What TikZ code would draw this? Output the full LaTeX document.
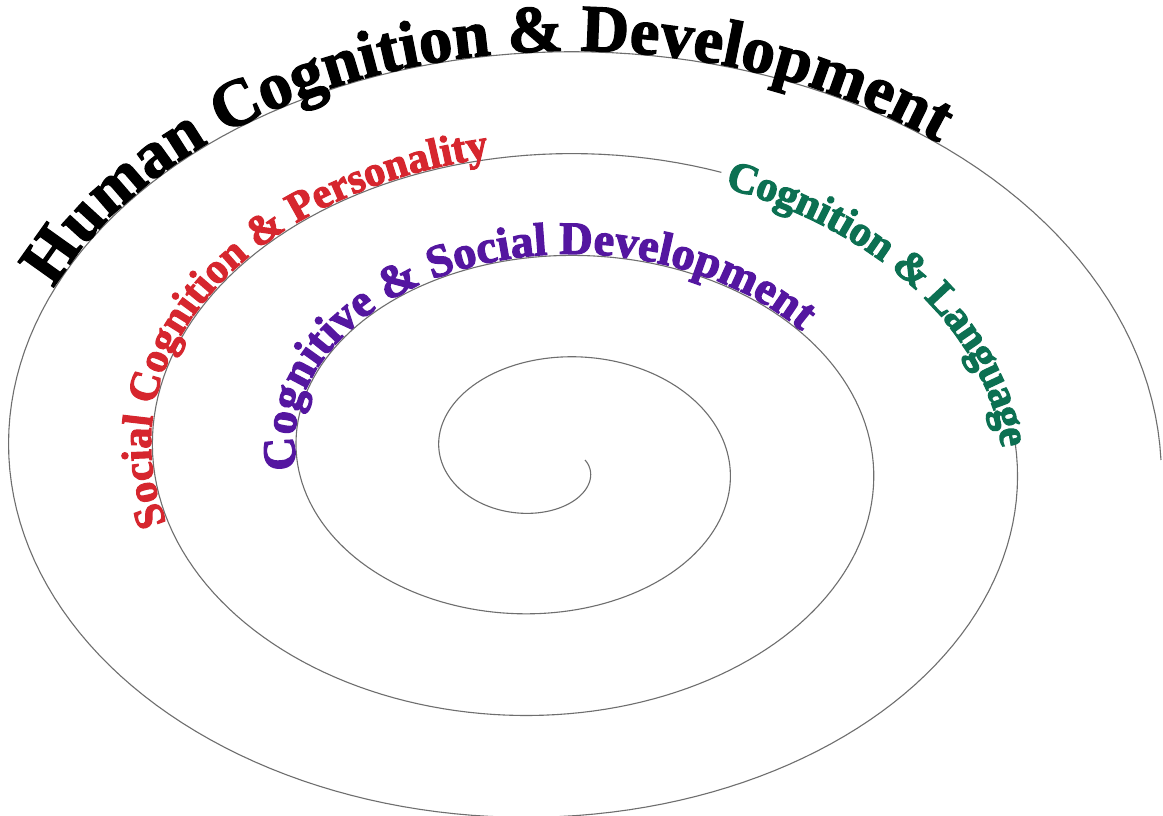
\documentclass[tikz,border=0pt]{standalone}
\usepackage{fontspec}
\setmainfont{Liberation Serif}[BoldFeatures={FakeBold=2}]
\newfontfamily\wafont{Liberation Serif}[BoldFeatures={FakeBold=2.6}]
\usetikzlibrary{decorations.text}
\definecolor{spiralgray}{RGB}{110,110,110}
\definecolor{redtxt}{RGB}{214,38,46}
\definecolor{purpletxt}{RGB}{84,22,160}
\definecolor{greentxt}{RGB}{12,112,82}
\newlength\wmeas
\tikzset{
  spiral/.style={draw=spiralgray, line width=1.1pt},
  declare function={sx(\t)=549+0.4*(\t+90)*cos(\t); sy(\t)=460+0.28333*(\t+90)*sin(\t);}
}
\begin{document}%
% font sizes fitted to the arc lengths
\settowidth{\wmeas}{\fontsize{10}{12}\selectfont\bfseries Human Cognition \& Development}%
\pgfmathsetmacro\fsblack{10*975/\wmeas}%
\settowidth{\wmeas}{\fontsize{10}{12}\selectfont\wafont\bfseries Social Cognition \& Personality}%
\pgfmathsetmacro\fsred{10*560/\wmeas}%
\settowidth{\wmeas}{\fontsize{10}{12}\selectfont\wafont\bfseries Cognitive \& Social Development}%
\pgfmathsetmacro\fspurple{10*640/\wmeas}%
\settowidth{\wmeas}{\fontsize{10}{12}\selectfont\wafont\bfseries Cognition \& Language}%
\pgfmathsetmacro\fsgreen{10*418/\wmeas}%
\pgfmathsetmacro\rgreen{-0.33*\fsgreen}%
\begin{tikzpicture}[x=1pt,y=-1pt]
\useasboundingbox[fill=white] (0,0) rectangle (1163,816);
% spiral (gap where the green text replaces the line)
\draw[spiral] plot[domain=0:1013, samples=507, variable=\t] ({sx(\t)},{sy(\t)});
\draw[spiral] plot[domain=1077:1440, samples=183, variable=\t] ({sx(\t)},{sy(\t)});
% texts along the spiral (left aligned from their first letter)
\path[decorate, decoration={text along path, text align=left, raise=1pt,
  text={|\fontsize{\fsblack}{\fsblack}\selectfont\bfseries\color{black}|Human Cognition {\&} Development}}]
  plot[domain=1286:1410, samples=100, variable=\t] ({sx(\t)},{sy(\t)});
\path[decorate, decoration={text along path, text align=left, raise=1.5pt,
  text={|\fontsize{\fsred}{\fsred}\selectfont\wafont\bfseries\color{redtxt}|Social Cognition {\&} Personality}}]
  plot[domain=887:1000, samples=90, variable=\t] ({sx(\t)},{sy(\t)});
\path[decorate, decoration={text along path, text align=left, raise=1.5pt,
  text={|\fontsize{\fspurple}{\fspurple}\selectfont\wafont\bfseries\color{purpletxt}|Cognitive {\&} Social Development}}]
  plot[domain=537:705, samples=110, variable=\t] ({sx(\t)},{sy(\t)});
\path[decorate, decoration={text along path, text align=left, raise=\rgreen pt,
  text={|\fontsize{\fsgreen}{\fsgreen}\selectfont\wafont\bfseries\color{greentxt}|Cognition {\&} Language}}]
  plot[domain=1014:1100, samples=70, variable=\t] ({sx(\t)},{sy(\t)});
\end{tikzpicture}
\end{document}
